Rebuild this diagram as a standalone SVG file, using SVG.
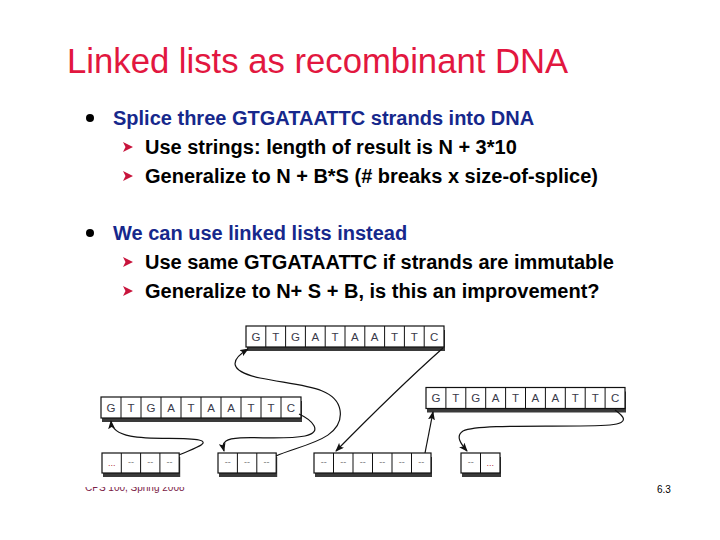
<svg xmlns="http://www.w3.org/2000/svg" width="720" height="540" viewBox="0 0 720 540">
<style>
.title{font-family:"Liberation Sans",Arial,sans-serif;font-size:34.7px;fill:#E2173F}
.b1{font-family:"Liberation Sans",Arial,sans-serif;font-size:20px;font-weight:bold;fill:#16288C}
.b2{font-family:"Liberation Sans",Arial,sans-serif;font-size:20px;font-weight:bold;fill:#000}
.box{fill:#fff;stroke:#111;stroke-width:1.2}
.shadow{fill:#3a3a3a}
.div{stroke:#111;stroke-width:1}
.cell{font-family:"Liberation Sans",Arial,sans-serif;font-size:11.5px;fill:#3a3a4a;text-anchor:middle}
.dash{font-family:"Liberation Sans",Arial,sans-serif;font-size:9px;fill:#777;text-anchor:middle}
.dots{font-family:"Liberation Sans",Arial,sans-serif;font-size:9px;fill:#B03040;text-anchor:middle}
.conn{fill:none;stroke:#111;stroke-width:1.2;marker-end:url(#ah)}
.foot{font-family:"Liberation Sans",Arial,sans-serif;font-size:10px;fill:#7A2045}
.pg{font-family:"Liberation Sans",Arial,sans-serif;font-size:10px;fill:#000}
</style>
<defs>
<marker id="ah" markerUnits="userSpaceOnUse" markerWidth="9" markerHeight="7" refX="8" refY="3.5" orient="auto">
<path d="M0,0 L9,3.5 L0,7 L2,3.5 z" fill="#111"/>
</marker>
<polygon id="arr" points="0,0 10,5 0,10 2.5,5" fill="#C8143C"/>
<clipPath id="fc"><rect x="0" y="487" width="720" height="20"/></clipPath>
</defs>

<rect width="720" height="540" fill="#fff"/>

<g id="title"><text class="title" x="67" y="73">Linked lists as recombinant DNA</text></g>

<g id="bullets">
<circle cx="90" cy="118" r="4" fill="#000"/>
<text class="b1" x="113" y="125">Splice three GTGATAATTC strands into DNA</text>
<use href="#arr" x="123" y="142"/>
<text class="b2" x="145" y="154">Use strings: length of result is N + 3*10</text>
<use href="#arr" x="123" y="171"/>
<text class="b2" x="145" y="183">Generalize to N + B*S (# breaks x size-of-splice)</text>
<circle cx="90" cy="233" r="4" fill="#000"/>
<text class="b1" x="113" y="240">We can use linked lists instead</text>
<use href="#arr" x="123" y="257"/>
<text class="b2" x="145" y="269">Use same GTGATAATTC if strands are immutable</text>
<use href="#arr" x="123" y="286"/>
<text class="b2" x="145" y="298">Generalize to N+ S + B, is this an improvement?</text>
</g>

<g id="strand-top">
<rect class="shadow" x="247" y="330" width="198" height="21"/>
<rect class="box" x="246" y="326" width="198" height="21"/>
<path class="div" d="M265.8,326V347M285.6,326V347M305.4,326V347M325.2,326V347M345,326V347M364.8,326V347M384.6,326V347M404.4,326V347M424.2,326V347"/>
<text class="cell" x="255.9" y="340.8">G</text><text class="cell" x="275.7" y="340.8">T</text><text class="cell" x="295.5" y="340.8">G</text><text class="cell" x="315.3" y="340.8">A</text><text class="cell" x="335.1" y="340.8">T</text><text class="cell" x="354.9" y="340.8">A</text><text class="cell" x="374.7" y="340.8">A</text><text class="cell" x="394.5" y="340.8">T</text><text class="cell" x="414.3" y="340.8">T</text><text class="cell" x="434.1" y="340.8">C</text>
</g>

<g id="strand-left">
<rect class="shadow" x="102" y="401" width="200" height="21"/>
<rect class="box" x="101" y="397" width="200" height="21"/>
<path class="div" d="M121,397V418M141,397V418M161,397V418M181,397V418M201,397V418M221,397V418M241,397V418M261,397V418M281,397V418"/>
<text class="cell" x="111" y="411.8">G</text><text class="cell" x="131" y="411.8">T</text><text class="cell" x="151" y="411.8">G</text><text class="cell" x="171" y="411.8">A</text><text class="cell" x="191" y="411.8">T</text><text class="cell" x="211" y="411.8">A</text><text class="cell" x="231" y="411.8">A</text><text class="cell" x="251" y="411.8">T</text><text class="cell" x="271" y="411.8">T</text><text class="cell" x="291" y="411.8">C</text>
</g>

<g id="strand-right">
<rect class="shadow" x="427" y="391.5" width="199" height="21"/>
<rect class="box" x="426" y="387.5" width="199" height="21"/>
<path class="div" d="M445.9,387.5V408.5M465.8,387.5V408.5M485.7,387.5V408.5M505.6,387.5V408.5M525.5,387.5V408.5M545.4,387.5V408.5M565.3,387.5V408.5M585.2,387.5V408.5M605.1,387.5V408.5"/>
<text class="cell" x="435.95" y="402.3">G</text><text class="cell" x="455.85" y="402.3">T</text><text class="cell" x="475.75" y="402.3">G</text><text class="cell" x="495.65" y="402.3">A</text><text class="cell" x="515.55" y="402.3">T</text><text class="cell" x="535.45" y="402.3">A</text><text class="cell" x="555.35" y="402.3">A</text><text class="cell" x="575.25" y="402.3">T</text><text class="cell" x="595.15" y="402.3">T</text><text class="cell" x="615.05" y="402.3">C</text>
</g>

<g id="node1">
<rect class="shadow" x="103" y="457" width="77.2" height="20"/>
<rect class="box" x="102" y="453" width="77.2" height="20"/>
<path class="div" d="M121.3,453V473M140.6,453V473M159.9,453V473"/>
<text class="dots" x="111.65" y="466">...</text><text class="dash" x="130.95" y="465">--</text><text class="dash" x="150.25" y="465">--</text><text class="dash" x="169.55" y="465">--</text>
</g>

<g id="node2">
<rect class="shadow" x="219" y="457" width="58.2" height="20"/>
<rect class="box" x="218" y="453" width="58.2" height="20"/>
<path class="div" d="M237.4,453V473M256.8,453V473"/>
<text class="dash" x="227.7" y="465">--</text><text class="dash" x="247.1" y="465">--</text><text class="dash" x="266.5" y="465">--</text>
</g>

<g id="node3">
<rect class="shadow" x="315" y="457" width="117" height="20"/>
<rect class="box" x="314" y="453" width="117" height="20"/>
<path class="div" d="M333.5,453V473M353,453V473M372.5,453V473M392,453V473M411.5,453V473"/>
<text class="dash" x="323.75" y="465">--</text><text class="dash" x="343.25" y="465">--</text><text class="dash" x="362.75" y="465">--</text><text class="dash" x="382.25" y="465">--</text><text class="dash" x="401.75" y="465">--</text><text class="dash" x="421.25" y="465">--</text>
</g>

<g id="node4">
<rect class="shadow" x="462" y="457" width="39" height="20"/>
<rect class="box" x="461" y="453" width="39" height="20"/>
<path class="div" d="M480.5,453V473"/>
<text class="dash" x="470.75" y="465">--</text><text class="dots" x="490.25" y="466">...</text>
</g>

<g id="connectors">
<path class="conn" d="M179,455 C192,449 212,443 199,440 C175,435 113,446 111,421"/>
<path class="conn" d="M299,414 C312,420 324,432 305,436 C280,441 236,434 226,441 C222,444 223,447 224,451"/>
<path class="conn" d="M276,456 C300,445 345,440 340,410 C336,386 300,386 260,378 C228,371 230,360 248,349"/>
<path class="conn" d="M443,348 Q398,388 336,451"/>
<path class="conn" d="M425,453 L433,412"/>
<path class="conn" d="M615,410 C622,415 632,423 610,425 C570,428 480,423 463,431 C455,436 461,444 467,451"/>
</g>

<g id="footer">
<text class="foot" x="85" y="491" clip-path="url(#fc)">CPS 100, Spring 2008</text>
<text class="pg" x="657" y="493">6.3</text>
</g>
</svg>
